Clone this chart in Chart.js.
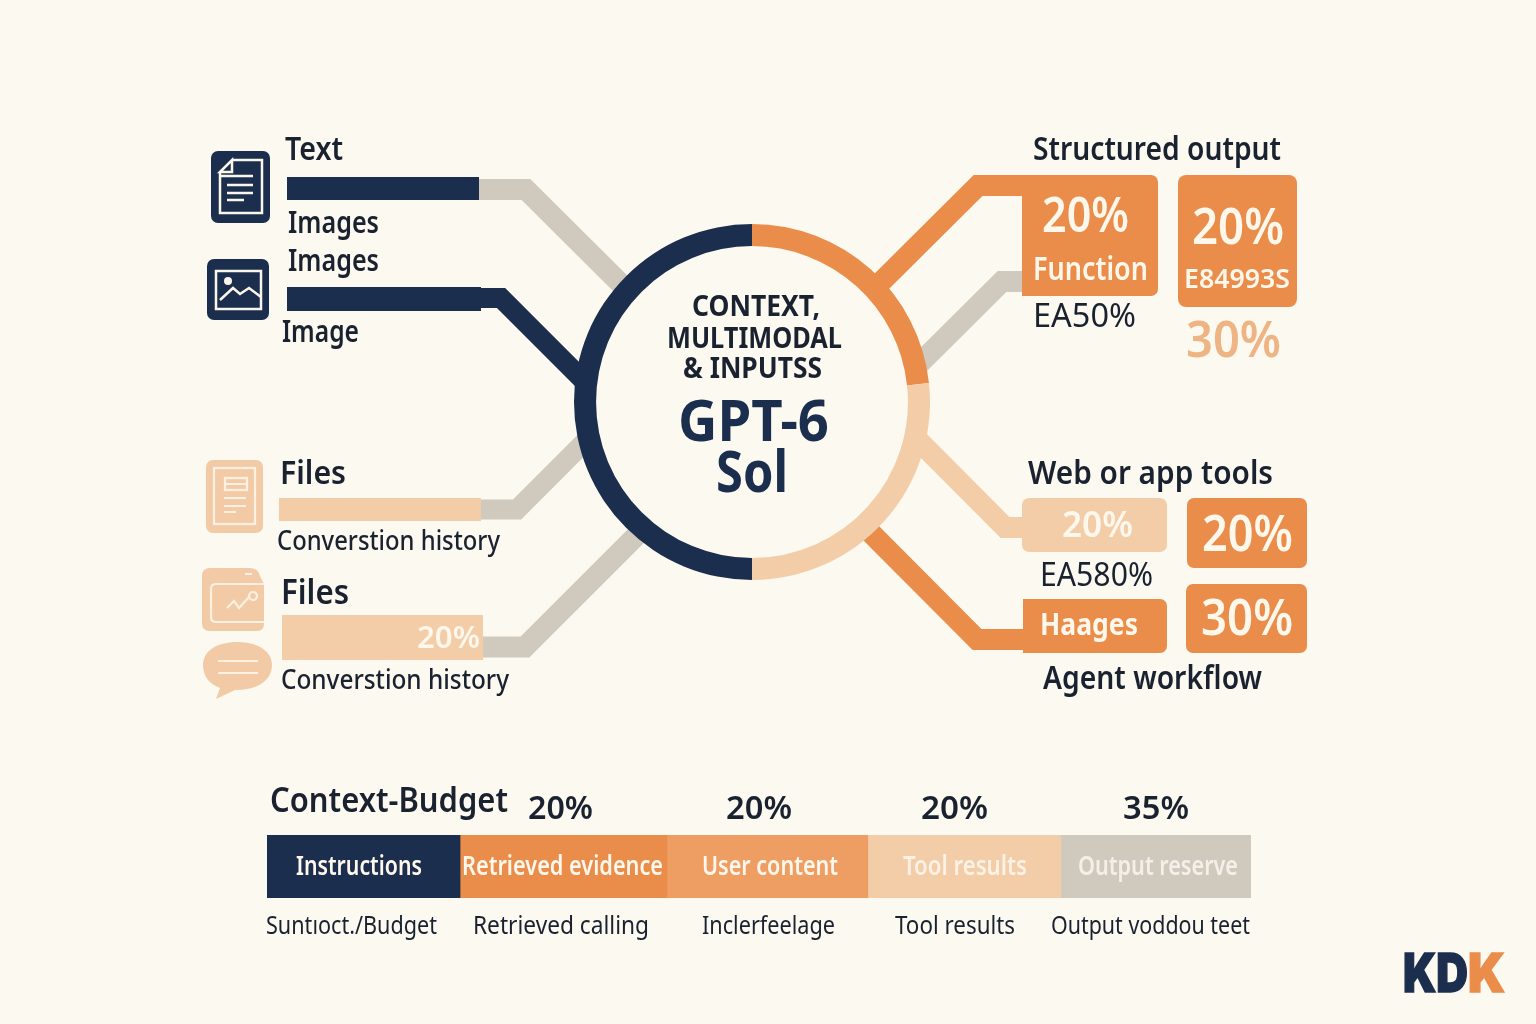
<!DOCTYPE html>
<html lang="en">
<head>
<meta charset="utf-8">
<title>GPT-6 Sol context budget</title>
<script src="https://cdn.jsdelivr.net/npm/chart.js@4/dist/chart.umd.js"></script>
<style>
html,body{margin:0;padding:0;background:#FCF9F1;width:1536px;height:1024px;overflow:hidden}
canvas,svg{position:absolute;display:block}
.t{position:absolute;white-space:nowrap;transform-origin:0 0;font-family:"Noto Sans",sans-serif;line-height:normal}
</style>
</head>
<body>
<canvas id="stage" width="1536" height="1024" style="left:0;top:0"></canvas>
<canvas id="ring" width="356" height="356" style="left:574px;top:224px"></canvas>
<canvas id="budget" width="984" height="63" style="left:267px;top:835px"></canvas>
<svg id="icons" width="1536" height="1024" viewBox="0 0 1536 1024" style="left:0;top:0">
  <g fill="none" stroke="#FBF6EA" stroke-width="2.5">
    <rect x="211" y="151" width="59" height="72" rx="7" fill="#1C2E4D" stroke="none"/>
    <path d="M232 160H262V213H220V172"/><path d="M220 172L232 160V172Z"/>
    <path d="M220 176H253M227 185H253M227 193H253M227 200H244"/>
    <rect x="207" y="259" width="62" height="61" rx="7" fill="#1C2E4D" stroke="none"/>
    <rect x="216" y="271" width="45" height="38"/>
    <circle cx="228" cy="281" r="4" fill="#FBF6EA" stroke="none"/>
    <path d="M220 300L233 288L240 294L249 288L261 297"/>
  </g>
  <g fill="none" stroke="#FBF0E2" stroke-width="2.2">
    <rect x="206" y="460" width="57" height="73" rx="7" fill="#F2CBA6" stroke="none"/>
    <rect x="214" y="468" width="41" height="56"/>
    <rect x="225" y="478" width="22" height="12"/><path d="M225 484H247M224 498H246M224 506H246M224 512H236"/>
    <path d="M202 576Q202 568 210 568H250Q258 568 260 576L264 584V624Q264 631 257 631H210Q202 631 202 623Z" fill="#F2CBA6" stroke="none"/>
    <path d="M264 584H216Q211 584 211 589V617Q211 622 216 622H264"/>
    <path d="M245 574H252M227 608L234 601L239 608L249 597"/><circle cx="253" cy="596" r="4"/>
    <path d="M237 642C258 642 272 651 272 665C272 680 258 690 237 690H235L216 699L220 688C209 684 203 676 203 665C203 651 217 642 237 642Z" fill="#F2CBA6" stroke="none"/>
    <path d="M218 661H258M218 673H258"/>
  </g>
</svg>
<div id="texts"></div>
<script>
// ---- data ----
const ringLabels = ["Outputs", "Tools", "Inputs"];
const ringValues = [23.3, 26.7, 50];

const budgetCategories = ["Instructions", "Retrieved evidence", "User content", "Tool results", "Output reserve"];
const budgetShares = [19.6, 21.0, 20.4, 19.6, 19.3];
const budgetPercentLabels = ["20%", "20%", "20%", "35%"];
const budgetNotes = ["Suntıoct./Budget", "Retrieved calling", "Inclerfeelage", "Tool results", "Output voddou teet"];

const inputBarTextPath = [{x:287,y:188.5},{x:479,y:188.5}];
const inputBarImagePath = [{x:287,y:299},{x:481,y:299}];
const inputBarFilesPath = [{x:279,y:509.5},{x:481,y:509.5}];
const inputBarHistoryPath = [{x:282,y:637.5},{x:483,y:637.5}];
const linkText = [{x:479,y:189.5},{x:526,y:189.5},{x:632,y:295}];
const linkImage = [{x:480,y:298},{x:501,y:298},{x:590,y:387}];
const linkFiles = [{x:480,y:509.5},{x:517,y:509.5},{x:590,y:436.5}];
const linkHistory = [{x:482,y:647},{x:525,y:647},{x:645,y:527}];
const linkStructured = [{x:1030,y:185.5},{x:978,y:185.5},{x:873,y:290}];
const linkFunction = [{x:1030,y:281.5},{x:1002,y:281.5},{x:915,y:368}];
const linkWeb = [{x:1030,y:527.5},{x:1005,y:527.5},{x:912,y:434}];
const linkAgent = [{x:1030,y:639.5},{x:977,y:639.5},{x:860,y:522}];

// ---- styles ----
const NAVY = "#1C2E4D", ORANGE = "#EA8D4B", PEACH = "#F3CDA8", GRAY = "#CFC9BE", SOFT = "#EF9E63", INK = "#1A2230", CREAM = "#FDF7EC";

function stroke(data, color, width) {
  return {data, showLine:true, borderColor:color, borderWidth:width, pointRadius:0,
          borderJoinStyle:"miter", borderCapStyle:"butt", tension:0, fill:false};
}
// rounded tiles: [x0, y0, x1, y1, left radius, right radius, colour]
const tiles = [
  [1022,175,1158,296,0,7,ORANGE],
  [1178,175,1297,307,8,8,ORANGE],
  [1022,498,1167,552,7,7,PEACH],
  [1187,498,1307,568,7,7,ORANGE],
  [1023,599,1167,653,0,7,ORANGE],
  [1186,584,1307,653,7,7,ORANGE]
];
const tilePlugin = {
  id:"tiles",
  afterDatasetsDraw(chart){
    const {ctx, scales:{x,y}} = chart;
    tiles.forEach(([x0,y0,x1,y1,rl,rr,c])=>{
      const l=x.getPixelForValue(x0), r=x.getPixelForValue(x1), t=y.getPixelForValue(y0), b=y.getPixelForValue(y1);
      ctx.save(); ctx.fillStyle=c; ctx.beginPath();
      ctx.roundRect(l,t,r-l,b-t,[rl,rr,rr,rl]); ctx.fill(); ctx.restore();
    });
  }
};

Chart.defaults.animation = false;
Chart.defaults.responsive = false;
Chart.defaults.devicePixelRatio = 1;
Chart.defaults.plugins.legend.display = false;
Chart.defaults.plugins.tooltip.enabled = false;

new Chart(document.getElementById("stage"), {
  type:"scatter",
  data:{datasets:[
    stroke(inputBarTextPath,NAVY,23),
    stroke(inputBarImagePath,NAVY,24),
    stroke(inputBarFilesPath,PEACH,23),
    stroke(inputBarHistoryPath,PEACH,45),
    stroke(linkText,GRAY,21),
    stroke(linkImage,NAVY,20),
    stroke(linkFiles,GRAY,20),
    stroke(linkHistory,GRAY,21),
    stroke(linkStructured,ORANGE,21),
    stroke(linkFunction,GRAY,21),
    stroke(linkWeb,PEACH,21),
    stroke(linkAgent,ORANGE,21)
  ]},
  options:{
    layout:{padding:0},
    clip:false,
    scales:{
      x:{type:"linear",display:false,min:0,max:1536},
      y:{type:"linear",display:false,min:0,max:1024,reverse:true}
    }
  },
  plugins:[tilePlugin]
});

new Chart(document.getElementById("ring"), {
  type:"doughnut",
  data:{labels:ringLabels,datasets:[{data:ringValues,backgroundColor:[ORANGE,PEACH,NAVY],borderWidth:0}]},
  options:{cutout:"87.6%",rotation:0,circumference:360,layout:{padding:0}}
});

new Chart(document.getElementById("budget"), {
  type:"bar",
  data:{
    labels:["Context-Budget"],
    datasets:budgetCategories.map((name,i)=>({
      label:name,
      data:[budgetShares[i]],
      backgroundColor:[NAVY,ORANGE,SOFT,PEACH,GRAY][i],
      borderWidth:0,
      barPercentage:1,
      categoryPercentage:1
    }))
  },
  options:{
    indexAxis:"y",
    layout:{padding:0},
    scales:{
      x:{stacked:true,display:false,min:0,max:budgetShares.reduce((a,b)=>a+b,0)},
      y:{stacked:true,display:false}
    }
  }
});

// ---- text: [string, left, right, baseline, size, weight, colour] ----
const WARM = "#EEB483";
const textRows = [
  ["Text",285,343,160,32,600,INK],
  ["Images",288,379,233,30,600,INK],
  ["Images",288,379,271,30,600,INK],
  ["Image",282,359,342,31,600,INK],
  ["Files",280,346,484,33,600,INK],
  ["Converstion history",277,500,550,27,500,INK],
  ["Files",281,349,604,34,600,INK],
  ["20%",417,480,648,30,600,CREAM],
  ["Converstion history",281,509,689,27,500,INK],
  ["CONTEXT,",692,820,316,29,700,INK],
  ["MULTIMODAL",667,842,348,29,700,INK],
  ["& INPUTSS",683,822,378,29,700,INK],
  ["GPT-6",678,829,441,57,700,NAVY],
  ["Sol",716,788,492,58,700,NAVY],
  ["Structured output",1033,1281,160,32,600,INK],
  ["20%",1042,1129,232,48,600,CREAM],
  ["Function",1033,1148,280,32,600,CREAM],
  ["EA50%",1033,1136,327,32,400,INK],
  ["20%",1192,1284,244,50,600,CREAM],
  ["E84993S",1184,1290,288,27,600,CREAM],
  ["30%",1186,1281,357,50,600,WARM],
  ["Web or app tools",1028,1273,484,32,600,INK],
  ["20%",1062,1133,537,36,600,CREAM],
  ["20%",1202,1293,551,50,600,CREAM],
  ["EA580%",1040,1153,586,32,400,INK],
  ["Haages",1040,1138,635,31,700,CREAM],
  ["30%",1201,1293,635,50,600,CREAM],
  ["Agent workflow",1043,1262,689,32,600,INK],
  ["Context-Budget",270,508,812,34,600,INK]
];
const percentSpans = [[528,593],[726,792],[921,988],[1123,1189]];
budgetPercentLabels.forEach((s,i)=>textRows.push([s,percentSpans[i][0],percentSpans[i][1],819,33,600,INK]));
const nameSpans = [[296,422],[462,663],[702,838],[903,1027],[1078,1238]];
const nameColours = [CREAM,CREAM,CREAM,"#FBF1E4","#F4F0E8"];
budgetCategories.forEach((s,i)=>textRows.push([s,nameSpans[i][0],nameSpans[i][1],875,27,600,nameColours[i]]));
const noteSpans = [[266,437],[473,649],[702,835],[895,1015],[1051,1250]];
budgetNotes.forEach((s,i)=>textRows.push([s,noteSpans[i][0],noteSpans[i][1],934,26,400,INK]));
textRows.push(["KD",1403,1468,992,54,900,NAVY],["K",1468,1505,992,54,900,ORANGE]);

const measure = document.createElement("canvas").getContext("2d");
const host = document.getElementById("texts");
textRows.forEach(([s,l,r,base,size,weight,colour])=>{
  const logo = s==="KD"||s==="K";
  const family = logo ? "Inter" : "Noto Sans";
  measure.font = `${weight} ${size}px "${family}"`;
  const m = measure.measureText(s);
  const d = document.createElement("div");
  d.className = "t";
  d.textContent = s;
  d.style.fontFamily = `"${family}",sans-serif`;
  d.style.fontSize = size+"px";
  d.style.fontWeight = weight;
  d.style.color = colour;
  if (logo) d.style.webkitTextStroke = "1.5px "+colour;
  d.style.left = l+"px";
  d.style.top = (base - m.fontBoundingBoxAscent)+"px";
  d.style.transform = `scaleX(${(r-l)/m.width})`;
  host.appendChild(d);
});
</script>
</body>
</html>
